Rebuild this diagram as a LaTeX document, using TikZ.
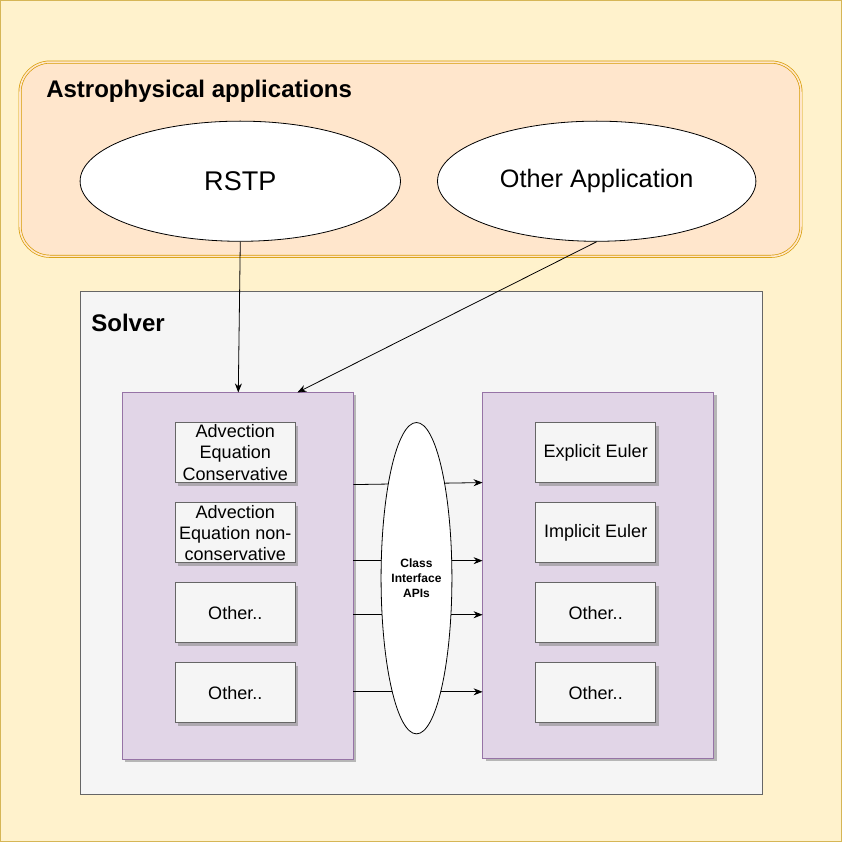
\documentclass[tikz,border=0pt]{standalone}
\usepackage{fontspec}
\setmainfont{Liberation Sans}
\usetikzlibrary{shapes.geometric,arrows.meta,shadows}
\definecolor{bgfill}{HTML}{FFF2CC}
\definecolor{bgdraw}{HTML}{D6B656}
\definecolor{apfill}{HTML}{FFE6CC}
\definecolor{apdraw}{HTML}{D79B00}
\definecolor{gfill}{HTML}{F5F5F5}
\definecolor{gdraw}{HTML}{666666}
\definecolor{pfill}{HTML}{E1D5E7}
\definecolor{pdraw}{HTML}{9673A6}
\tikzset{
  px/.style={x=1pt,y=-1pt},
  ell/.style={ellipse,draw=black,fill=white,inner sep=0pt,line width=0.8pt},
  purplebox/.style={draw=pdraw,fill=pfill,line width=0.8pt,
     drop shadow={shadow xshift=3pt,shadow yshift=-3pt,fill=black!45,opacity=0.6}},
  smallbox/.style={draw=gdraw,fill=gfill,line width=0.9pt,minimum width=120pt,minimum height=60pt,
     inner sep=0pt,align=center,font=\fontsize{18}{21}\selectfont,
     drop shadow={shadow xshift=3pt,shadow yshift=-3pt,fill=black!45,opacity=0.6}},
  conn/.style={draw=black,line width=0.8pt,-{Stealth[length=9pt,width=7pt]}}
}
\begin{document}
\begin{tikzpicture}[px]
\useasboundingbox (0,0) rectangle (841,841);
\fill[bgfill,draw=bgdraw,line width=1pt] (0.5,0.5) rectangle (840.5,840.5);
% Astrophysical applications
\filldraw[fill=apfill,draw=apdraw,line width=0.7pt,double=apfill,double distance=1.6pt,rounded corners=30pt] (20,62) rectangle (800,256);
\node[anchor=west,font=\bfseries\fontsize{24}{27}\selectfont,inner sep=0pt] (aptitle) at (46,91) {Astrophysical applications};
\node[ell,minimum width=320pt,minimum height=120pt,font=\fontsize{27}{30}\selectfont] (rstp) at (240,181) {RSTP};
\node[ell,minimum width=318pt,minimum height=120pt,font=\fontsize{25.2}{30}\selectfont] (other) at (596,181) {Other Application};
% Solver
\node[draw=gdraw,fill=gfill,line width=0.8pt,minimum width=681pt,minimum height=502pt,inner sep=0pt] (solver) at (420.5,542) {};
\node[anchor=west,font=\bfseries\fontsize{24}{27}\selectfont,inner sep=0pt] (soltitle) at (91,323) {Solver};
\node[purplebox,minimum width=231pt,minimum height=366pt,inner sep=0pt] (L) at (237.5,575) {};
\node[purplebox,minimum width=231pt,minimum height=365pt,inner sep=0pt] (R) at (597.5,574.5) {};
% left boxes
\node[smallbox] (l1) at (235,452) {Advection\\Equation\\Conservative};
\node[smallbox] (l2) at (235,532) {Advection\\Equation non-\\conservative};
\node[smallbox] (l3) at (235,612) {Other..};
\node[smallbox] (l4) at (235,692) {Other..};
% right boxes
\node[smallbox] (r1) at (595,452) {Explicit Euler};
\node[smallbox] (r2) at (595,532) {Implicit Euler};
\node[smallbox] (r3) at (595,612) {Other..};
\node[smallbox] (r4) at (595,692) {Other..};
% connectors through the API ellipse
\coordinate (a1) at (353,484); \coordinate (b1) at (482,482);
\coordinate (a2) at (353,560); \coordinate (b2) at (482,560);
\coordinate (a3) at (353,614); \coordinate (b3) at (482,614);
\coordinate (a4) at (353,691); \coordinate (b4) at (482,691);
\draw[conn] (a1) -- (b1);
\draw[conn] (a2) -- (b2);
\draw[conn] (a3) -- (b3);
\draw[conn] (a4) -- (b4);
\node[ell,minimum width=58pt,minimum height=311pt,align=center,font=\bfseries\fontsize{12}{14.5}\selectfont] (api) at (416,577.5) {Class\\Interface\\APIs};
% top connectors
\coordinate (t1) at (238,392);
\coordinate (t2) at (297,392);
\draw[conn] (rstp.south) -- (t1);
\draw[conn] (other.south) -- (t2);
\end{tikzpicture}
\end{document}
